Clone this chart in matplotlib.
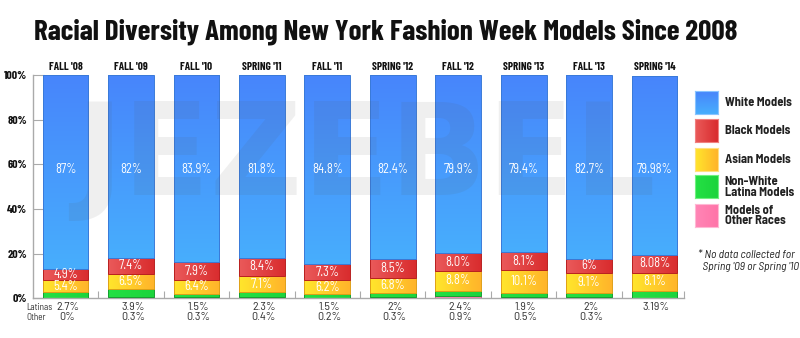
import matplotlib
matplotlib.use("Agg")
import matplotlib.pyplot as plt
from matplotlib.colors import LinearSegmentedColormap
import numpy as np

categories = ["FALL '08", "FALL '09", "FALL '10", "SPRING '11", "FALL '11",
              "SPRING '12", "FALL '12", "SPRING '13", "FALL '13", "SPRING '14"]
white = [87, 82, 83.9, 81.8, 84.8, 82.4, 79.9, 79.4, 82.7, 79.98]
black = [4.9, 7.4, 7.9, 8.4, 7.3, 8.5, 8.0, 8.1, 6, 8.08]
asian = [5.4, 6.5, 6.4, 7.1, 6.2, 6.8, 8.8, 10.1, 9.1, 8.1]
latina = [2.7, 3.9, 1.5, 2.3, 1.5, 2, 2.4, 1.9, 2, 3.19]
other = [0, 0.3, 0.3, 0.4, 0.2, 0.3, 0.9, 0.5, 0.3, 0]

white_lbl = ["87%", "82%", "83.9%", "81.8%", "84.8%", "82.4%", "79.9%", "79.4%", "82.7%", "79.98%"]
black_lbl = ["4.9%", "7.4%", "7.9%", "8.4%", "7.3%", "8.5%", "8.0%", "8.1%", "6%", "8.08%"]
asian_lbl = ["5.4%", "6.5%", "6.4%", "7.1%", "6.2%", "6.8%", "8.8%", "10.1%", "9.1%", "8.1%"]
latina_lbl = ["2.7%", "3.9%", "1.5%", "2.3%", "1.5%", "2%", "2.4%", "1.9%", "2%", "3.19%"]
other_lbl = ["0%", "0.3%", "0.3%", "0.4%", "0.2%", "0.3%", "0.9%", "0.5%", "0.3%", ""]

yticks = [0, 20, 40, 60, 80, 100]
legend_labels = ["White Models", "Black Models", "Asian Models",
                 "Non-White\nLatina Models", "Models of\nOther Races"]

COND = ["Barlow Condensed", "DejaVu Sans"]
SEMI = ["Barlow Semi Condensed", "DejaVu Sans"]

# gradient colour pairs (start, end) and direction
G_WHITE = ("#4785FB", "#48AEFD", "v")
G_BLACK = ("#EA5A5A", "#D92C2E", "h")
G_ASIAN = ("#FFE62C", "#FFB42A", "h")
G_LATINA = ("#24E044", "#1CD43C", "h")
G_OTHER = ("#FF86B6", "#FF74A8", "h")

fig = plt.figure(figsize=(8, 3.38), dpi=100)
ax = fig.add_axes([0.041, 0.118, 0.814, 0.660])

x = np.arange(len(categories))
w = 0.70
o = np.array(other, float)
l = np.array(latina, float)
a = np.array(asian, float)
b = np.array(black, float)
wh = np.array(white, float)


def grad_bars(vals, bottoms, g, edge):
    cmap = LinearSegmentedColormap.from_list("g", [g[0], g[1]])
    bars = ax.bar(x, vals, w, bottom=bottoms, color="none", edgecolor=edge,
                  linewidth=0.7, zorder=3)
    for r in bars:
        x0, y0 = r.get_x(), r.get_y()
        x1, y1 = x0 + r.get_width(), y0 + r.get_height()
        if r.get_height() <= 0:
            continue
        if g[2] == "v":
            arr = np.linspace(0, 1, 256).reshape(-1, 1)
            ax.imshow(arr, extent=[x0, x1, y0, y1], origin="upper", cmap=cmap,
                      aspect="auto", zorder=2, interpolation="bilinear")
        else:
            arr = np.linspace(0, 1, 64).reshape(1, -1)
            ax.imshow(arr, extent=[x0, x1, y0, y1], origin="lower", cmap=cmap,
                      aspect="auto", zorder=2, interpolation="bilinear")


grad_bars(o, 0, G_OTHER, "#d06090")
grad_bars(l, o, G_LATINA, "#15a030")
grad_bars(a, o + l, G_ASIAN, "#e0a018")
grad_bars(b, o + l + a, G_BLACK, "#b82020")
grad_bars(wh, o + l + a + b, G_WHITE, "#3a7ad8")

# watermark
ax.text(4.58, 62, "JEZEBEL", ha="center", va="center", fontsize=92,
        fontweight="bold", family=["DejaVu Sans"], color="#555555", alpha=0.09, zorder=4)

for i in range(len(categories)):
    ax.text(x[i], 57.5, white_lbl[i], ha="center", va="center", color="white",
            fontsize=9, family=SEMI, zorder=5)
    ax.text(x[i], o[i] + l[i] + a[i] + b[i] / 2, black_lbl[i], ha="center", va="center",
            color="white", fontsize=9, family=SEMI, zorder=5)
    ax.text(x[i], o[i] + l[i] + a[i] / 2, asian_lbl[i], ha="center", va="center",
            color="white", fontsize=9, family=SEMI, zorder=5)
    ax.text(x[i], 103.6, categories[i], ha="center", va="center", color="#111111",
            fontsize=8, fontweight="bold", family=COND, clip_on=False)
    ax.text(x[i] + 0.03, -4.1, latina_lbl[i], ha="center", va="center", color="#333333",
            fontsize=8.6, family=SEMI, clip_on=False)
    ax.text(x[i] + 0.03, -8.6, other_lbl[i], ha="center", va="center", color="#333333",
            fontsize=8.6, family=SEMI, clip_on=False)

fig.text(0.033, 1 - 307 / 338, "Latinas", ha="left", va="center", color="#333333",
         fontsize=6.6, family=SEMI)
fig.text(0.033, 1 - 317 / 338, "Other", ha="left", va="center", color="#333333",
         fontsize=6.6, family=SEMI)

ax.set_xlim(-0.5, 9.45)
ax.set_ylim(0, 100)
for s in ["top", "right"]:
    ax.spines[s].set_visible(False)
for s in ["left", "bottom"]:
    ax.spines[s].set_color("#aaaaaa")
    ax.spines[s].set_linewidth(1.0)
ax.set_yticks(yticks)
ax.set_yticklabels([f"{t}%" for t in yticks], fontsize=8.5, fontweight="bold",
                   family=COND, color="#111111")
ax.tick_params(axis="y", direction="in", length=8, color="#aaaaaa", pad=4)
ax.set_xticks(list(np.arange(0.5, 9, 1.0)) + [9.45])
ax.set_xticklabels([])
ax.tick_params(axis="x", direction="in", length=5, color="#aaaaaa")

fig.text(0.043, 0.905, "Racial Diversity Among New York Fashion Week Models Since 2008",
         ha="left", va="center", fontsize=21, fontweight="bold", family=COND, color="#111111")

# legend
gl = [G_WHITE, G_BLACK, G_ASIAN, G_LATINA, G_OTHER]
edges = ["#88c4ff", "#f08080", "#ffe080", "#70f080", "#ffb8d4"]
ys = [0.698, 0.614, 0.528, 0.447, 0.362]
for g, e, yy, t in zip(gl, edges, ys, legend_labels):
    lax = fig.add_axes([0.869, yy - 0.034, 0.0285, 0.068])
    cmap = LinearSegmentedColormap.from_list("g", [g[0], g[1]])
    if g[2] == "v":
        lax.imshow(np.linspace(0, 1, 64).reshape(-1, 1), cmap=cmap, aspect="auto")
    else:
        lax.imshow(np.linspace(0, 1, 64).reshape(1, -1), cmap=cmap, aspect="auto")
    lax.set_xticks([])
    lax.set_yticks([])
    for sp in lax.spines.values():
        sp.set_color(e)
        sp.set_linewidth(0.8)
    fig.text(0.906, yy, t, ha="left", va="center", fontsize=9, fontweight="bold",
             family=SEMI, color="#222222", linespacing=0.95)

fig.text(0.872, 0.228, "* No data collected for\n  Spring '09 or Spring '10", ha="left",
         va="center", fontsize=8.3, style="italic", family=SEMI, color="#222222",
         linespacing=1.15)

fig.savefig("out.png", dpi=100, facecolor="white")
